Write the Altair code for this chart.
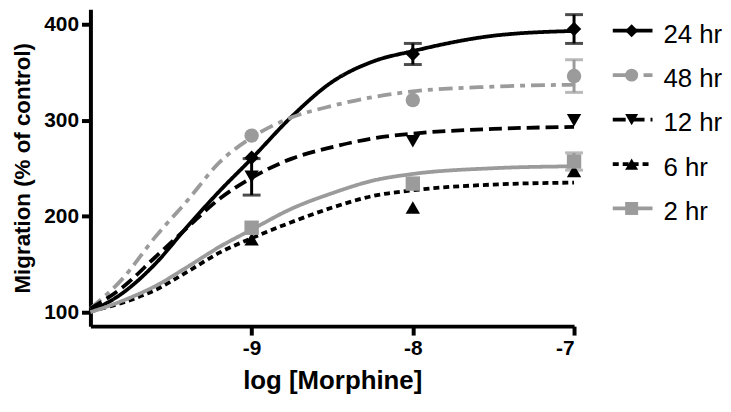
import altair as alt
import pandas as pd

# ---- data ----
series = ["24 hr", "48 hr", "12 hr", "6 hr", "2 hr"]

# fitted curves
curve_x = [-10, -9.8, -9.6, -9.4, -9.2, -9, -8.75, -8.5, -8.25, -8, -7.5, -7]
curve_24 = [101, 120, 150, 189, 226, 260, 304, 340, 361, 372, 388, 393]
curve_48 = [104, 135, 178, 216, 256, 282, 303, 315, 324, 330, 335, 337]
curve_12 = [104, 126, 157, 188, 218, 240, 260, 272, 281, 286, 291, 293]
curve_6 = [101, 110, 123, 142, 162, 177, 194, 209, 221, 227, 233, 235]
curve_2 = [100, 112, 127, 147, 168, 186, 208, 224, 237, 244, 250, 252]

# measured points (mean, error)
point_x = [-9, -8, -7]
pt_24 = [261, 369, 395]
pt_48 = [284, 321, 346]
pt_12 = [241, 278, 300]
pt_6 = [176, 209, 247]
pt_2 = [188, 234, 257]
err_24 = [0, 11, 15]
err_48 = [0, 0, 17]
err_12 = [19, 0, 0]
err_6 = [0, 0, 0]
err_2 = [0, 0, 9]

x_ticks = [-9, -8, -7]
y_ticks = [100, 200, 300, 400]

curves = [curve_24, curve_48, curve_12, curve_6, curve_2]
pts = [pt_24, pt_48, pt_12, pt_6, pt_2]
errs = [err_24, err_48, err_12, err_6, err_2]

curve_df = pd.DataFrame(
    [{"series": s, "x": x, "y": y} for s, c in zip(series, curves) for x, y in zip(curve_x, c)]
)
pt_df = pd.DataFrame(
    [
        {"series": s, "x": x, "y": y, "err": e}
        for s, p, er in zip(series, pts, errs)
        for x, y, e in zip(point_x, p, er)
    ]
)
leg_df = pd.DataFrame({"series": series})

# ---- styles ----
GRAY = "#9b9b9b"
color = alt.Color(
    "series:N",
    scale=alt.Scale(domain=series, range=["#000000", GRAY, "#000000", "#000000", GRAY]),
    legend=None,
)
shape = alt.Shape(
    "series:N",
    scale=alt.Scale(domain=series, range=["diamond", "circle", "triangle-down", "triangle-up", "square"]),
    legend=None,
)
dash = alt.StrokeDash(
    "series:N",
    scale=alt.Scale(domain=series, range=[[1, 0], [14, 6, 5, 6], [13, 6], [6, 4], [1, 0]]),
    legend=None,
)

xscale = alt.Scale(domain=[-10, -7], nice=False, zero=False)
yscale = alt.Scale(domain=[85.5, 415.5], nice=False, zero=False)
xaxis = alt.Axis(
    values=x_ticks,
    title="log [Morphine]",
    labelExpr="datum.value < 0 ? '-' + abs(datum.value) : '' + datum.value",
    titleFontSize=26,
    titlePadding=9,
)
yaxis = alt.Axis(values=y_ticks, title="Migration (% of control)", titleFontSize=22.5, titlePadding=9)

X = alt.X("x:Q", scale=xscale, axis=xaxis)

lines = alt.Chart(curve_df).mark_line(strokeWidth=3.8, interpolate="monotone").encode(
    x=X,
    y=alt.Y("y:Q", scale=yscale, axis=yaxis),
    color=color,
    strokeDash=dash,
    detail="series:N",
)

err_base = alt.Chart(pt_df).transform_filter("datum.err > 0").transform_calculate(
    lo="datum.y - datum.err", hi="datum.y + datum.err"
)
err_rules = err_base.mark_rule(strokeWidth=3).encode(
    x=X,
    y=alt.Y("lo:Q", scale=yscale, axis=yaxis),
    y2="hi:Q",
    color=color,
)
cap_lo = err_base.mark_tick(orient="horizontal", thickness=3, size=18).encode(
    x=X, y=alt.Y("lo:Q", scale=yscale, axis=yaxis), color=color
)
cap_hi = err_base.mark_tick(orient="horizontal", thickness=3, size=18).encode(
    x=X, y=alt.Y("hi:Q", scale=yscale, axis=yaxis), color=color
)
points = alt.Chart(pt_df).mark_point(filled=True, opacity=1, size=210).encode(
    x=X,
    y=alt.Y("y:Q", scale=yscale, axis=yaxis),
    color=color,
    shape=shape,
)

main = alt.layer(lines, err_rules, cap_lo, cap_hi, points).properties(width=487, height=319)

# ---- legend panel ----
leg_y = alt.Y("series:N", scale=alt.Scale(type="point", domain=series, padding=0.48), axis=None)
leg_base = alt.Chart(leg_df).encode(y=leg_y)
leg_lines = leg_base.mark_rule(strokeWidth=3.8).encode(
    x=alt.value(0), x2=alt.value(40), color=color, strokeDash=dash
)
leg_pts = leg_base.mark_point(filled=True, opacity=1, size=170).encode(
    x=alt.value(19), color=color, shape=shape
)
leg_text = leg_base.mark_text(
    align="left", baseline="middle", dy=4, fontSize=26, font="Liberation Sans", color="black"
).encode(x=alt.value(51), text="series:N")
legend = alt.layer(leg_lines, leg_pts, leg_text).properties(width=100, height=222)

chart = (
    alt.hconcat(main, legend, spacing=28)
    .properties(padding={"left": 3, "top": 0, "right": 0, "bottom": 0})
    .configure_view(stroke=None)
    .configure_axis(
        grid=False,
        domainColor="black",
        domainWidth=4,
        tickColor="black",
        tickWidth=4,
        tickSize=9,
        labelFont="Liberation Sans",
        labelFontWeight="bold",
        labelFontSize=21,
        labelColor="black",
        labelPadding=3,
        titleFont="Liberation Sans",
        titleFontWeight="bold",
        titleColor="black",
    )
)

chart.save("out.html", embed_options={"renderer": "svg", "actions": False})
